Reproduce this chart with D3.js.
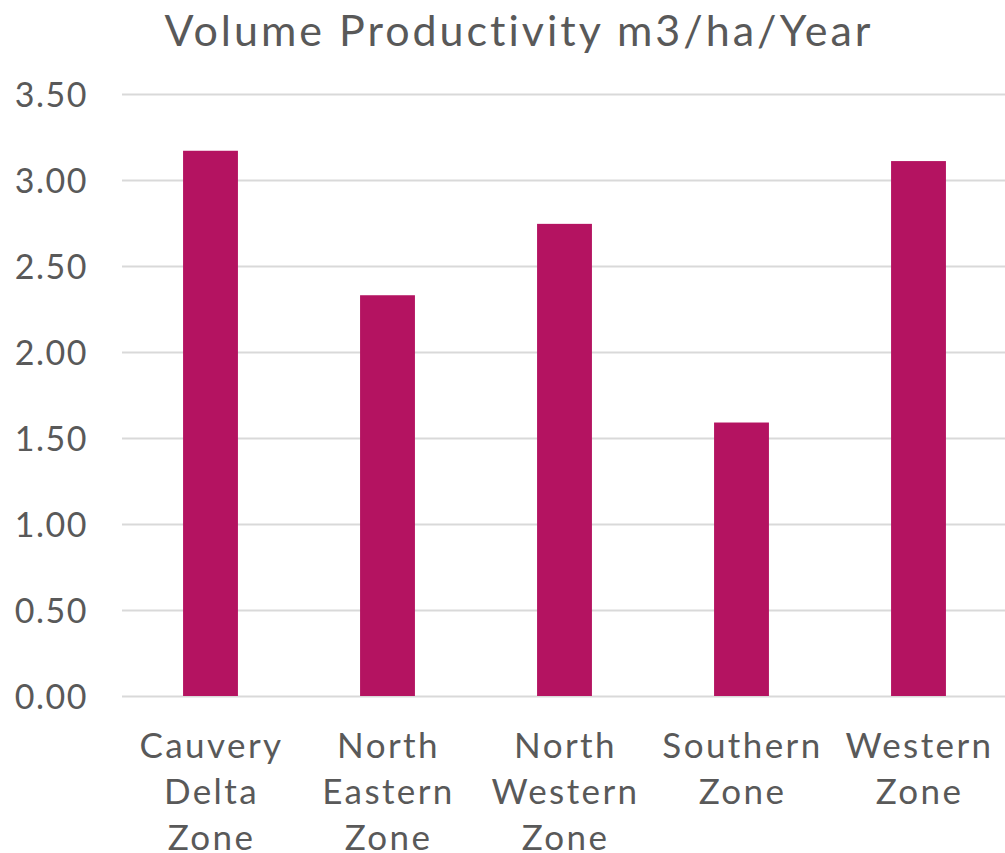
<!DOCTYPE html>
<html>
<head>
<meta charset="utf-8">
<script src="https://cdn.jsdelivr.net/npm/d3@7"></script>
<style>
  body { margin: 0; background: #fff; }
  text { font-family: "Century Gothic", "Lato", "Noto Sans", sans-serif; fill: #595959; }
</style>
</head>
<body>
<script>
// chart data
var zones = ["Cauvery Delta Zone", "North Eastern Zone", "North Western Zone", "Southern Zone", "Western Zone"];
var productivity = [3.17, 2.33, 2.745, 1.59, 3.11];
var yTicks = [0, 0.5, 1, 1.5, 2, 2.5, 3, 3.5];
var title = "Volume Productivity m3/ha/Year";

var data = zones.map(function(z, i) { return { zone: z, value: productivity[i] }; });

// Set up the SVG canvas dimensions
var W = 1005, H = 853;
var margin = { top: 94, right: 0, bottom: 157, left: 122 },
    width = 1007 - margin.left,
    height = H - margin.top - margin.bottom;

var svg = d3.select("body")
    .append("svg")
    .attr("width", W)
    .attr("height", H);

var g = svg.append("g")
    .attr("transform", "translate(" + margin.left + "," + margin.top + ")");

var xScale = d3.scaleBand()
    .domain(zones)
    .range([0, width])
    .paddingInner(0.69)
    .paddingOuter(0.345);

var yScale = d3.scaleLinear()
    .domain([0, 3.5])
    .range([height, 0]);

// gridlines + y labels
var yAxis = g.append("g")
    .call(d3.axisLeft(yScale)
        .tickValues(yTicks)
        .tickSize(-width)
        .tickFormat(d3.format(".2f")));
yAxis.select(".domain").remove();
yAxis.attr("font-family", null).attr("font-size", null);
yAxis.selectAll(".tick line")
    .attr("stroke", "#d9d9d9")
    .attr("stroke-width", 2);
yAxis.selectAll(".tick text")
    .attr("x", -34)
    .attr("dy", "0.36em")
    .attr("fill", null)
    .style("font-size", "34px")
    .style("letter-spacing", "1.5px");

// bars
g.selectAll(".bar")
    .data(data)
    .enter().append("rect")
    .attr("class", "bar")
    .attr("x", function(d) { return xScale(d.zone); })
    .attr("width", xScale.bandwidth())
    .attr("y", function(d) { return yScale(d.value); })
    .attr("height", function(d) { return height - yScale(d.value); })
    .attr("fill", "#b41361");

// x labels (one word per line)
var xAxis = g.append("g")
    .attr("transform", "translate(0," + height + ")")
    .call(d3.axisBottom(xScale).tickSize(0).tickFormat(""));
xAxis.select(".domain").remove();
xAxis.attr("font-family", null).attr("font-size", null);
xAxis.selectAll(".tick").each(function(d) {
    var t = d3.select(this).select("text")
        .attr("y", 0)
        .attr("dy", null)
        .attr("fill", null)
        .style("font-size", "35px")
        .style("letter-spacing", "2.4px")
        .text(null);
    d.split(" ").forEach(function(w, i) {
        t.append("tspan")
            .attr("x", 1)
            .attr("y", 62 + i * 46)
            .text(w);
    });
});

// title
svg.append("text")
    .attr("x", 519)
    .attr("y", 46)
    .attr("text-anchor", "middle")
    .style("font-size", "43px")
    .style("letter-spacing", "3px")
    .text(title);
</script>
</body>
</html>
